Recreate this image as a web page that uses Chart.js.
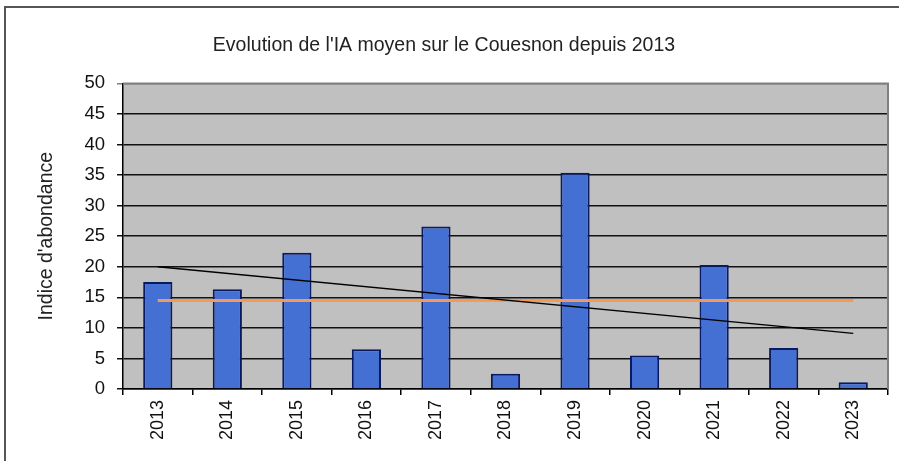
<!DOCTYPE html>
<html>
<head>
<meta charset="utf-8">
<script src="https://cdn.jsdelivr.net/npm/chart.js@4"></script>
<style>
  body { margin: 0; background: #fff; }
  #wrap { position: relative; width: 899px; height: 461px; }
  #frame { position: absolute; left: 4px; top: 6px; right: 0; bottom: -4px;
           border-top: 2px solid #555; border-left: 2px solid #555; pointer-events: none; }
</style>
</head>
<body>
<div id="wrap">
  <canvas id="myChart1" width="899" height="461"></canvas>
  <div id="frame"></div>
</div>
<script>
const years = ['2013', '2014', '2015', '2016', '2017', '2018', '2019', '2020', '2021', '2022', '2023'];
const iaValues = [17.5, 16.3, 22.3, 6.5, 26.6, 2.5, 35.4, 5.5, 20.3, 6.7, 1.1];
const meanLine = [14.5, 14.5, 14.5, 14.5, 14.5, 14.5, 14.5, 14.5, 14.5, 14.5, 14.5];
const trendLine = [20.0, null, null, null, null, null, null, null, null, null, 9.1];
const yTicks = [0, 5, 10, 15, 20, 25, 30, 35, 40, 45, 50];

const FONT = '"Liberation Sans", Arial, sans-serif';

const plotBg = {
    id: 'plotBg',
    beforeDraw(chart) {
        const {ctx, chartArea: a} = chart;
        ctx.save();
        ctx.fillStyle = '#c0c0c0';
        ctx.fillRect(a.left, a.top, a.right - a.left, a.bottom - a.top);
        ctx.restore();
    },
    beforeDatasetsDraw(chart) {
        const {ctx, chartArea: a} = chart;
        ctx.save();
        ctx.strokeStyle = '#808080';
        ctx.lineWidth = 2;
        ctx.beginPath();
        ctx.moveTo(a.left, a.top);
        ctx.lineTo(a.right, a.top);
        ctx.lineTo(a.right, a.bottom);
        ctx.stroke();
        ctx.restore();
    }
};

const ctx = document.getElementById('myChart1');

new Chart(ctx, {
    data: {
        labels: years,
        datasets: [{
            type: 'line',
            data: meanLine,
            borderColor: '#f39a5a',
            borderWidth: 3,
            pointRadius: 0,
            order: 1
        }, {
            type: 'line',
            data: trendLine,
            spanGaps: true,
            borderColor: '#000',
            borderWidth: 1.3,
            pointRadius: 0,
            order: 0
        }, {
            type: 'bar',
            data: iaValues,
            backgroundColor: '#4470d4',
            borderColor: '#0a1a60',
            borderWidth: 2,
            barPercentage: 0.42,
            categoryPercentage: 1,
            order: 2
        }]
    },
    options: {
        responsive: false,
        animation: false,
        devicePixelRatio: 1,
        layout: { padding: { left: 0, right: 11, top: 0, bottom: 0 } },
        plugins: {
            legend: { display: false },
            tooltip: { enabled: false },
            title: {
                display: true,
                text: "Evolution de l'IA moyen sur le Couesnon depuis 2013",
                color: '#222',
                font: { family: FONT, size: 19.5, weight: 'normal' },
                padding: { top: 34, bottom: 26 }
            }
        },
        scales: {
            x: {
                offset: true,
                afterFit: (s) => { s.height = 72; },
                grid: { offset: true, drawOnChartArea: false, drawTicks: true, tickLength: 6, color: '#000', lineWidth: 1.5 },
                border: { color: '#000', width: 1.5 },
                ticks: {
                    autoSkip: false, maxRotation: 90, minRotation: 90, padding: 5,
                    color: '#111', font: { family: FONT, size: 18 }
                }
            },
            y: {
                min: 0,
                max: 50,
                afterFit: (s) => { s.width = 123; },
                afterBuildTicks: (s) => { s.ticks = yTicks.map(v => ({ value: v })); },
                grid: {
                    tickLength: 6,
                    lineWidth: 1.5,
                    color: (c) => c.tick && c.tick.value === 50 ? '#808080' : '#111'
                },
                border: { color: '#000', width: 1.5 },
                ticks: { padding: 12, color: '#111', font: { family: FONT, size: 18.5 } },
                title: {
                    display: true,
                    text: "Indice d'abondance",
                    color: '#222',
                    font: { family: FONT, size: 19.5 },
                    padding: { top: 35 }
                }
            }
        }
    },
    plugins: [plotBg]
});
</script>
</body>
</html>
